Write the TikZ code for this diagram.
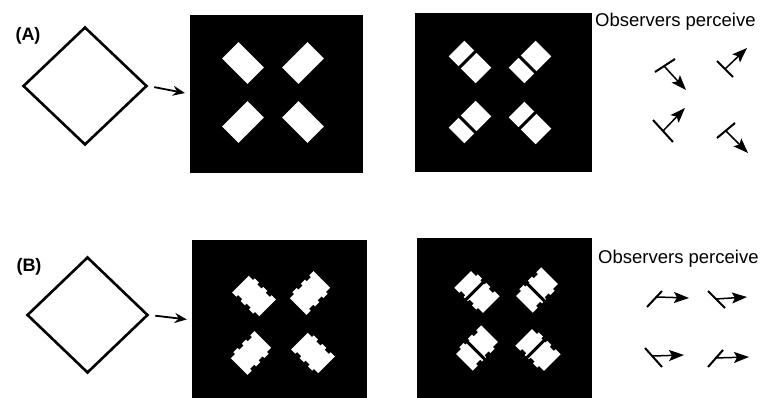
\documentclass[tikz,border=0pt]{standalone}
\usepackage{fontspec}
\setmainfont{Liberation Sans}
\usetikzlibrary{arrows.meta, positioning, shapes.geometric}
\tikzset{
  paneltag/.style = {font=\fontsize{18}{20}\selectfont\bfseries, inner sep=0pt},
  outline/.style  = {diamond, draw=black, line width=2.6pt, inner sep=0pt},
  stim/.style     = {rectangle, fill=black, draw=none, inner sep=0pt},
  feed/.style     = {line width=1.8pt, -{Stealth[length=12pt, width=10pt]},
                     shorten <=6pt, shorten >=5pt},
  note/.style     = {font=\fontsize{18.5}{20}\selectfont, inner sep=0pt},
  tile/.pic       = {\fill[white] (-18,-11.5) rectangle (18,11.5);},
  splittile/.pic  = {\fill[white] (-19,-11) rectangle (19,11);
                     \fill[black] (-5,-12) rectangle (-2,12);},
  sawtile/.pic    = {\fill[white] (-18,13) -- (-12,13) -- (-12,10.5) -- (-6,10.5) -- (-6,13)
                     -- (0,13) -- (0,10.5) -- (6,10.5) -- (6,13) -- (12,13) -- (12,10.5)
                     -- (18,10.5) -- (18,-13) -- (12,-13) -- (12,-10.5) -- (6,-10.5)
                     -- (6,-13) -- (0,-13) -- (0,-10.5) -- (-6,-10.5) -- (-6,-13)
                     -- (-12,-13) -- (-12,-10.5) -- (-18,-10.5) -- cycle;},
  splitsaw/.pic   = {\fill[white] (-19,13) -- (-12,13) -- (-12,10.5) -- (-6,10.5) -- (-6,13)
                     -- (0,13) -- (0,10.5) -- (6,10.5) -- (6,13) -- (12,13) -- (12,10.5)
                     -- (19,10.5) -- (19,-13) -- (12,-13) -- (12,-10.5) -- (6,-10.5)
                     -- (6,-13) -- (0,-13) -- (0,-10.5) -- (-6,-10.5) -- (-6,-13)
                     -- (-12,-13) -- (-12,-10.5) -- (-19,-10.5) -- cycle;
                     \fill[black] (-4,-14) rectangle (-1,14);},
}

\begin{document}
\begin{tikzpicture}[
					x=1pt, y=-1pt,
					bar/.style={line width=2pt},
					motion/.style={line width=1.5pt, -{Stealth[length=15pt, width=11pt, inset=3pt]}}
					]
					\useasboundingbox (0,0) rectangle (782,398);

					% (A) plain bars
					\node[paneltag] (tagA) at (28,36) {(A)};
					\node[outline, minimum width=124pt, minimum height=118pt]
					(shapeA) at (85,86) {};
					\node[stim, minimum width=173pt, minimum height=158pt]
					(frameA1) at (276.5,94) {};
					\node[stim, minimum width=177pt, minimum height=159pt]
					(frameA2) at (503.5,92.5) {};
					\draw[feed] (shapeA.east) -- (frameA1.west);

					\foreach \px/\py/\ang in {243/63/-45, 303/63/45, 243/122/45, 303/122/-45}
					\pic[rotate=\ang] at (\px,\py) {tile};
					\foreach \px/\py/\ang in {470/62/-45, 530/62/45, 470/122/45, 530/123/-45}
					\pic[rotate=\ang] at (\px,\py) {splittile};

					\node[note, anchor=base west] (seeA) at (595,27) {Observers perceive};
					\draw[bar] (655,72) -- (675,59);
					\draw[motion] (664,66) -- (686,90);
					\draw[bar] (717,61) -- (733,77);
					\draw[motion] (725,69) -- (747,48);
					\draw[bar] (653,120) -- (673,142);
					\draw[motion] (663,131) -- (685,108);
					\draw[bar] (717,138) -- (735,123);
					\draw[motion] (726,131) -- (748,153);

					% (B) notched bars
					\node[paneltag] (tagB) at (29,267) {(B)};
					\node[outline, minimum width=121pt, minimum height=116pt]
					(shapeB) at (87.5,315) {};
					\node[stim, minimum width=175pt, minimum height=160pt]
					(frameB1) at (279.5,320) {};
					\node[stim, minimum width=175pt, minimum height=162pt]
					(frameB2) at (504.5,319) {};
					\draw[feed] (shapeB.east) -- (frameB1.west);

					\foreach \px/\py/\ang in {254/296/-45, 310/293/45, 251/353/45, 313/353/-45}
					\pic[rotate=\ang] at (\px,\py) {sawtile};
					\foreach \px/\py/\ang in {477/292/-45, 537/290/45, 477/348/45, 538/350/-45}
					\pic[rotate=\ang] at (\px,\py) {splitsaw};

					\node[note, anchor=base west] (seeB) at (598,263) {Observers perceive};
					\draw[bar] (647,307) -- (662,291);
					\draw[motion] (657,297) -- (689,298);
					\draw[bar] (708,291) -- (725,308);
					\draw[motion] (716,299) -- (747,297);
					\draw[bar] (645,348) -- (662,367);
					\draw[motion] (653,356) -- (684,355);
					\draw[bar] (708,367) -- (723,350);
					\draw[motion] (715,358) -- (749,357);
				\end{tikzpicture}
\end{document}
